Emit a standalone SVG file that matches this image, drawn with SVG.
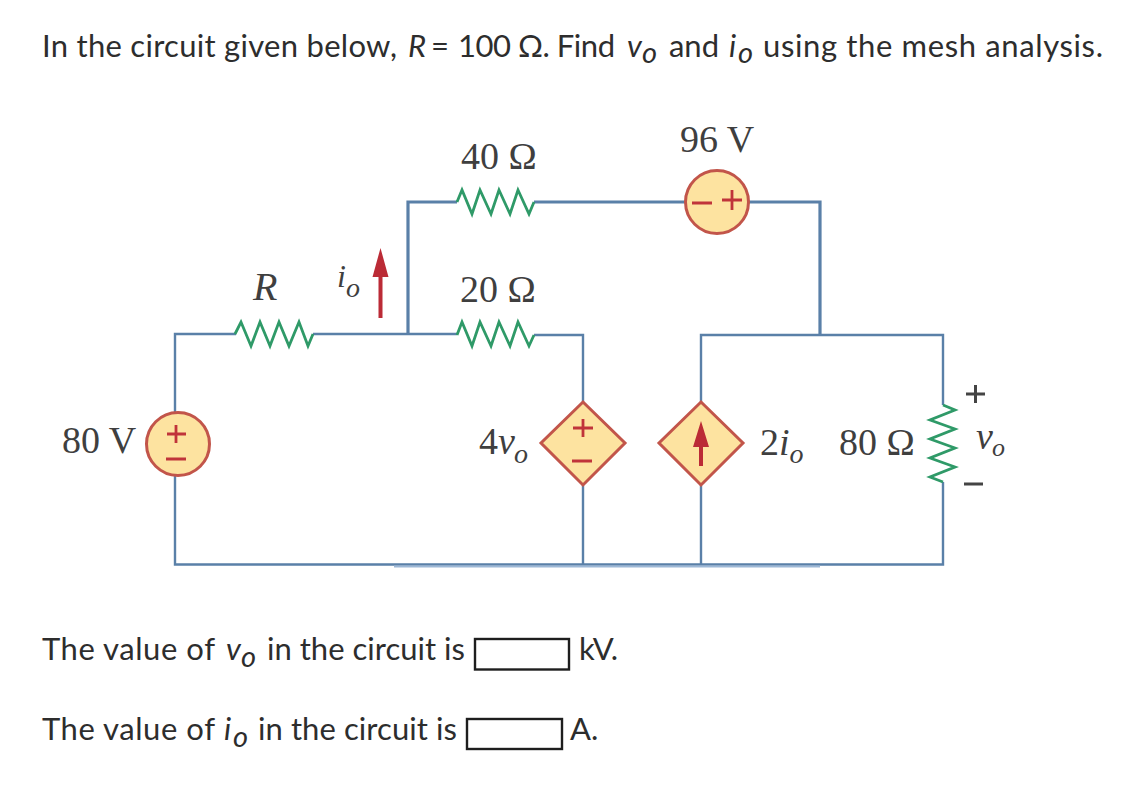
<svg xmlns="http://www.w3.org/2000/svg" width="1124" height="806" viewBox="0 0 1124 806">
<style>
.q{font-family:"Lato","Liberation Sans",sans-serif;font-size:31px;fill:#2d2d2d}
.qi{font-style:italic}
.qs{font-style:italic;font-size:29px}
.c{font-family:"Liberation Serif",serif;font-size:38px;fill:#3f3f3f}
.ci{font-style:italic}
.sub{font-style:italic;font-size:28px}
.w{fill:none;stroke:#5a80a8;stroke-width:2.4}
.wt{fill:none;stroke:#5a80a8;stroke-width:3.2}
.r{fill:none;stroke:#2f9a68;stroke-width:2.8;stroke-linejoin:miter}
.s{fill:#fde3a0;stroke:#c2554a;stroke-width:3}
.m{fill:none;stroke:#c0343a;stroke-width:2.8}
.a{fill:#bb2b36;stroke:none}
.b{fill:#fff;stroke:#1e1e1e;stroke-width:2.4}
</style>
<rect width="1124" height="806" fill="#fff"/>
<g id="question">
<text class="q" x="42" y="57" textLength="355">In the circuit given below,</text>
<text class="q qi" x="408" y="57">R</text>
<text class="q" x="431" y="57">=</text>
<text class="q" x="458" y="57" textLength="157">100 Ω. Find</text>
<text class="q qi" x="627" y="57">v</text>
<text class="q qs" x="642" y="63">o</text>
<text class="q" x="669" y="57" textLength="50">and</text>
<text class="q qi" x="729" y="57">i</text>
<text class="q qs" x="738" y="63">o</text>
<text class="q" x="763" y="57" textLength="340">using the mesh analysis.</text>
</g>
<g id="connectors">
<path class="w" d="M175 413V334H236M313 334H457M534 335H583V402"/>
<path class="w" d="M175 475V564.5H943V482M943 405V335H701V402"/>
<path class="w" d="M583 485V564M701 485V564"/>
<path class="wt" d="M408 334V202H457M534 202H686M748 202H820V334"/>
<path fill="none" stroke="#9db8d6" stroke-width="2" d="M394 566.500H820"/>
</g>
<g id="r40"><path class="r" d="M457 202L462 190L472 214L480 190L491 214L499 190L510 214L518 190L529 214L534 202"/><text class="c" x="461" y="169">40 Ω</text></g>
<g id="r20"><path class="r" d="M457 335L462 322L472 346L480 322L491 346L499 322L510 346L518 322L529 346L534 335"/><text class="c" x="460" y="302">20 Ω</text></g>
<g id="rR"><path class="r" d="M235 334L241 322L251 346L260 322L270 346L279 322L289 346L299 322L308 346L313 334"/><text class="c ci" x="253" y="300" style="font-size:40px">R</text></g>
<g id="io-arrow"><path class="a" d="M380.500 248L388.500 277H382.500V318H378.500V277H372.500Z"/><text class="c ci" x="337" y="287" style="font-size:32px">i<tspan class="sub" dx="0" dy="10">o</tspan></text></g>
<g id="v80"><circle class="s" cx="178" cy="444" r="31.500"/><path class="m" d="M167 434H186M176 425V443M166 459H186"/><text class="c" x="62" y="453">80 V</text></g>
<g id="v96"><circle class="s" cx="717" cy="202" r="31.500"/><path class="m" d="M692 203H712M722 200H742M732 190V210"/><text class="c" x="680" y="152">96 V</text></g>
<g id="dep-v"><path class="s" d="M583 402L625 443L583 485L541 443Z"/><path class="m" d="M573 428H593M583 419V437M572 461H592"/><text class="c" x="479" y="454">4<tspan class="ci">v</tspan><tspan class="sub" dx="-1" dy="9">o</tspan></text></g>
<g id="dep-i"><path class="s" d="M701 402L743 443L701 485L659 443Z"/><path class="a" d="M701 421L709 447H703V466H699V447H693Z"/><text class="c" x="760" y="455">2<tspan class="ci">i</tspan><tspan class="sub" dx="0" dy="8">o</tspan></text></g>
<g id="r80"><path class="r" d="M943 405L955 410L930 420L955 429L930 439L955 448L930 458L955 467L930 477L943 482"/><text class="c" x="839" y="455">80 Ω</text></g>
<g id="vo"><path fill="none" stroke="#444" stroke-width="3" d="M966 394H985M975.500 385V403M964 484H983"/><text class="c ci" x="976" y="449" style="font-size:38px">v<tspan class="sub" dx="-1" dy="7" style="font-size:26px">o</tspan></text></g>
<g id="answers">
<text class="q" x="42" y="660" textLength="173">The value of</text>
<text class="q qi" x="226" y="660">v</text>
<text class="q qs" x="241" y="667">o</text>
<text class="q" x="267" y="660" textLength="198">in the circuit is</text>
<rect class="b" x="475" y="639" width="94" height="30.500"/>
<text class="q" x="579" y="660" textLength="39">kV.</text>
<text class="q" x="42" y="740" textLength="173">The value of</text>
<text class="q qi" x="224" y="740">i</text>
<text class="q qs" x="233" y="747">o</text>
<text class="q" x="258" y="740" textLength="199">in the circuit is</text>
<rect class="b" x="467" y="719" width="95" height="30"/>
<text class="q" x="570" y="740">A.</text>
</g>
</svg>
